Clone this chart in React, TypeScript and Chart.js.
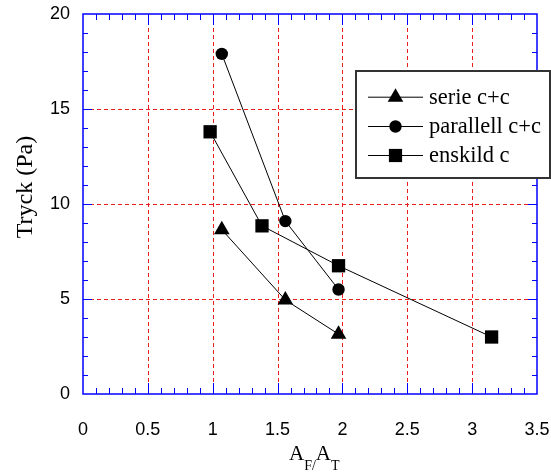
import React, { useEffect, useRef } from "react";
import { Chart, registerables } from "chart.js";

Chart.register(...registerables);

const serieX = [1.07, 1.56, 1.97];
const serieY = [8.65, 4.95, 3.15];
const parallellX = [1.07, 1.56, 1.97];
const parallellY = [17.9, 9.1, 5.5];
const enskildX = [0.98, 1.38, 1.97, 3.15];
const enskildY = [13.8, 8.85, 6.75, 3.0];

const seriesNames = ["serie c+c", "parallell c+c", "enskild c"];
const xMin = 0, xMax = 3.5, xStep = 0.5, xMinor = 0.1;
const yMin = 0, yMax = 20, yStep = 5, yMinor = 1;

const pts = (xs: number[], ys: number[]) => xs.map((x, i) => ({ x, y: ys[i] }));

function drawMarker(ctx: CanvasRenderingContext2D, kind: string, x: number, y: number) {
  ctx.save();
  ctx.fillStyle = "#000";
  ctx.beginPath();
  if (kind === "triangle") {
    const r = 9;
    for (let i = 0; i < 3; i++) {
      const a = (i * 2 * Math.PI) / 3;
      const px = x + Math.sin(a) * r;
      const py = y - Math.cos(a) * r;
      if (i === 0) ctx.moveTo(px, py); else ctx.lineTo(px, py);
    }
    ctx.closePath();
  } else if (kind === "circle") {
    ctx.arc(x, y, 6.2, 0, Math.PI * 2);
  } else {
    ctx.rect(x - 6.6, y - 6.6, 13.2, 13.2);
  }
  ctx.fill();
  ctx.restore();
}

const framePlugin = {
  id: "frame",
  beforeDatasetsDraw(chart: any) {
    const { ctx, chartArea: a, scales } = chart;
    const xs = scales.x, ys = scales.y;
    ctx.save();
    // grid
    ctx.strokeStyle = "rgb(235,30,30)";
    ctx.lineWidth = 1;
    ctx.setLineDash([4, 3]);
    for (let v = xMin + xStep; v < xMax - 1e-9; v += xStep) {
      const px = Math.round(xs.getPixelForValue(v)) + 0.5;
      ctx.beginPath(); ctx.moveTo(px, a.top); ctx.lineTo(px, a.bottom); ctx.stroke();
    }
    for (let v = yMin + yStep; v < yMax - 1e-9; v += yStep) {
      const py = Math.round(ys.getPixelForValue(v)) + 0.5;
      ctx.beginPath(); ctx.moveTo(a.left, py); ctx.lineTo(a.right, py); ctx.stroke();
    }
    ctx.setLineDash([]);
    // ticks
    ctx.strokeStyle = "#0000ff";
    ctx.lineWidth = 1;
    const nx = Math.round((xMax - xMin) / xMinor);
    for (let i = 1; i < nx; i++) {
      const v = xMin + i * xMinor;
      const major = i % Math.round(xStep / xMinor) === 0;
      const len = major ? 11 : 6;
      const px = Math.round(xs.getPixelForValue(v)) + 0.5;
      ctx.beginPath();
      ctx.moveTo(px, a.bottom); ctx.lineTo(px, a.bottom - len);
      ctx.moveTo(px, a.top); ctx.lineTo(px, a.top + len);
      ctx.stroke();
    }
    const ny = Math.round((yMax - yMin) / yMinor);
    for (let i = 1; i < ny; i++) {
      const v = yMin + i * yMinor;
      const major = i % Math.round(yStep / yMinor) === 0;
      const len = major ? 9 : 5;
      const py = Math.round(ys.getPixelForValue(v)) + 0.5;
      ctx.beginPath();
      ctx.moveTo(a.left, py); ctx.lineTo(a.left + len, py);
      ctx.moveTo(a.right, py); ctx.lineTo(a.right - len, py);
      ctx.stroke();
    }
    // frame
    ctx.lineWidth = 1.5;
    ctx.strokeRect(a.left, a.top, a.right - a.left, a.bottom - a.top);
    ctx.restore();
  },
  afterDatasetsDraw(chart: any) {
    const { ctx } = chart;
    ctx.save();
    // legend box
    const bx = 356, by = 71, bw = 194, bh = 107;
    ctx.fillStyle = "#fff";
    ctx.fillRect(bx, by, bw, bh);
    ctx.strokeStyle = "#333";
    ctx.lineWidth = 2;
    ctx.strokeRect(bx, by, bw, bh);
    const kinds = ["triangle", "circle", "rect"];
    const rowsY = [96.7, 126, 155];
    ctx.font = "22.5px 'Liberation Serif', 'Times New Roman', serif";
    ctx.textBaseline = "alphabetic";
    ctx.textAlign = "left";
    seriesNames.forEach((name, i) => {
      const cy = rowsY[i];
      ctx.strokeStyle = "#000";
      ctx.lineWidth = 1;
      ctx.beginPath(); ctx.moveTo(368, cy + 0.5); ctx.lineTo(423, cy + 0.5); ctx.stroke();
      drawMarker(ctx, kinds[i], 395.5, cy + 0.5);
      ctx.fillStyle = "#000";
      ctx.fillText(name, 429, cy + 6.8);
    });
    // y title
    ctx.save();
    ctx.translate(32, 187);
    ctx.rotate(-Math.PI / 2);
    ctx.font = "24px 'Liberation Serif', 'Times New Roman', serif";
    ctx.textAlign = "center";
    ctx.fillText("Tryck (Pa)", 0, 0);
    ctx.restore();
    // x title A_F/A_T
    let x = 289;
    const base = 459.5;
    const big = "21px 'Liberation Serif', 'Times New Roman', serif";
    const small = "14px 'Liberation Serif', 'Times New Roman', serif";
    const parts: [string, string, number][] = [["A", big, 0], ["F/", small, 10], ["A", big, 0], ["T", small, 10]];
    for (const [t, f, dy] of parts) {
      ctx.font = f;
      ctx.fillText(t, x, base + dy);
      x += ctx.measureText(t).width;
    }
    ctx.restore();
  },
};

export default function App() {
  const ref = useRef<HTMLCanvasElement>(null);
  useEffect(() => {
    if (!ref.current) return;
    const lineStyle = { borderColor: "#000", borderWidth: 1, backgroundColor: "#000", pointBackgroundColor: "#000", pointBorderColor: "#000", pointBorderWidth: 0, showLine: true, tension: 0 };
    const chart = new Chart(ref.current, {
      type: "scatter",
      data: {
        datasets: [
          { ...lineStyle, label: seriesNames[0], data: pts(serieX, serieY), pointStyle: "triangle", pointRadius: 9 },
          { ...lineStyle, label: seriesNames[1], data: pts(parallellX, parallellY), pointStyle: "circle", pointRadius: 6.2 },
          { ...lineStyle, label: seriesNames[2], data: pts(enskildX, enskildY), pointStyle: "rect", pointRadius: 9.4 },
        ],
      },
      options: {
        responsive: false,
        animation: false,
        layout: { padding: { top: 14, right: 14, left: 0, bottom: 0 } },
        plugins: { legend: { display: false }, tooltip: { enabled: false } },
        events: [],
        scales: {
          x: {
            type: "linear",
            min: xMin,
            max: xMax,
            grid: { display: false },
            border: { display: false },
            ticks: {
              stepSize: xStep,
              padding: 17,
              color: "#000",
              font: { family: "'Liberation Sans', Arial, sans-serif", size: 18 },
              maxRotation: 0,
              callback: (v: any) => String(Math.round(Number(v) * 10) / 10),
            },
            afterFit: (s: any) => { s.height = 79; s.paddingLeft = 0; s.paddingRight = 0; },
          },
          y: {
            type: "linear",
            min: yMin,
            max: yMax,
            grid: { display: false },
            border: { display: false },
            ticks: {
              stepSize: yStep,
              padding: 5,
              color: "#000",
              font: { family: "'Liberation Sans', Arial, sans-serif", size: 18 },
            },
            afterFit: (s: any) => { s.width = 83; s.paddingTop = 0; s.paddingBottom = 0; },
          },
        },
      },
      plugins: [framePlugin],
    } as any);
    return () => chart.destroy();
  }, []);
  return (
    <div style={{ position: "absolute", left: 0, top: 0, width: 551, height: 473, background: "#fff" }}>
      <canvas ref={ref} width={551} height={473} style={{ display: "block" }} />
    </div>
  );
}
